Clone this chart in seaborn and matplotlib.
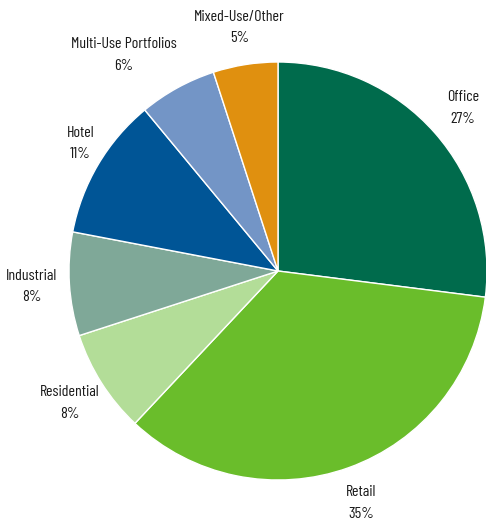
import matplotlib
matplotlib.use("Agg")
import matplotlib.pyplot as plt
import seaborn as sns
import numpy as np

categories = ["Office", "Retail", "Residential", "Industrial", "Hotel",
              "Multi-Use Portfolios", "Mixed-Use/Other"]
shares = [27, 35, 8, 8, 11, 6, 5]
colors = ["#006B4C", "#6ABD2B", "#B3DD98", "#7FA898", "#005596", "#7395C6", "#E0900F"]

# small label nudges (in units of pie radius) to mimic hand-placed labels
label_nudge = {"Hotel": (0.07, 0.01), "Multi-Use Portfolios": (-0.17, 0.0)}

sns.set_theme(style="white")
plt.rcParams["font.family"] = ["Barlow Condensed", "DejaVu Sans"]

fig = plt.figure(figsize=(4.86, 5.21), dpi=100)
ax = fig.add_axes([0, 0, 1, 1])

labels = [f"{c}\n{v}%" for c, v in zip(categories, shares)]
wedges, texts = ax.pie(shares, colors=colors, startangle=90, counterclock=False,
                       labels=labels, labeldistance=1.18,
                       wedgeprops=dict(edgecolor="white", linewidth=1.0),
                       textprops=dict(fontsize=11.5, color="#1a1a1a", linespacing=1.7))
for t, c in zip(texts, categories):
    t.set_ha("center")
    t.set_va("center")
    if c in label_nudge:
        x, y = t.get_position()
        dx, dy = label_nudge[c]
        t.set_position((x + dx, y + dy))

r = 209.0
ax.set_xlim(-278 / r, (486 - 278) / r)
ax.set_ylim(-(521 - 271) / r, 271 / r)
ax.set_aspect("auto")
ax.axis("off")

fig.savefig("out.png", dpi=100)
